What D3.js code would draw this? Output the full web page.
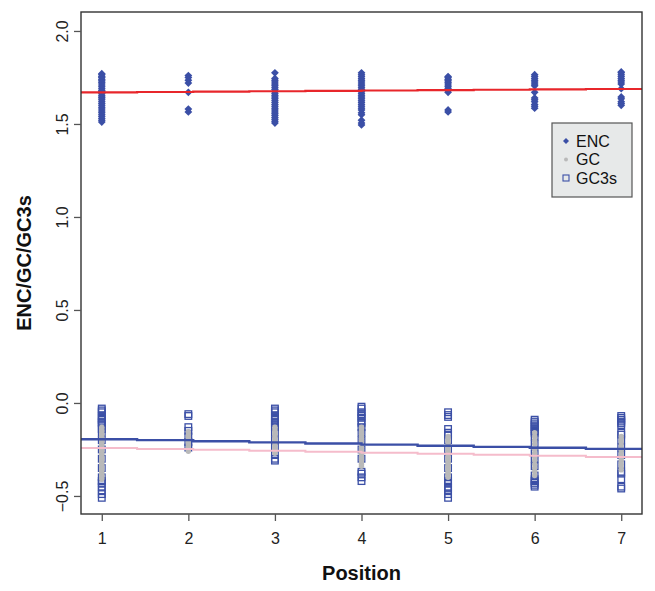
<!DOCTYPE html>
<html><head><meta charset="utf-8">
<script src="https://cdn.jsdelivr.net/npm/d3@7"></script>
<style>body{margin:0;background:#fff}svg{display:block}text{font-family:"Liberation Sans",Arial,sans-serif}</style>
</head><body>
<svg id="c" width="655" height="591"></svg>
<script>
const positions = [1,2,3,4,5,6,7];
const xTicks = [1,2,3,4,5,6,7];
const yTicks = [-0.5,0,0.5,1,1.5,2];
const yTickLabels = ["\u22120.5","0.0","0.5","1.0","1.5","2.0"];

const encValues = [
  [1.77,1.765,1.755,1.75,1.74,1.735,1.725,1.72,1.71,1.70,1.69,1.68,1.675,1.665,1.655,1.645,1.64,1.63,1.62,1.61,1.60,1.59,1.58,1.57,1.56,1.55,1.54,1.53,1.52,1.51],
  [1.76,1.75,1.735,1.72,1.67,1.58,1.565],
  [1.775,1.745,1.735,1.725,1.715,1.705,1.695,1.685,1.675,1.665,1.655,1.645,1.635,1.625,1.615,1.605,1.595,1.585,1.575,1.565,1.555,1.545,1.535,1.525,1.515,1.505],
  [1.775,1.765,1.755,1.745,1.735,1.725,1.715,1.705,1.695,1.685,1.675,1.665,1.655,1.645,1.635,1.625,1.615,1.605,1.595,1.585,1.575,1.56,1.55,1.52,1.505,1.495],
  [1.755,1.75,1.74,1.735,1.725,1.72,1.71,1.70,1.69,1.68,1.67,1.575,1.565],
  [1.765,1.755,1.745,1.735,1.725,1.715,1.705,1.67,1.64,1.63,1.62,1.605,1.595,1.585],
  [1.78,1.775,1.765,1.755,1.745,1.735,1.725,1.715,1.69,1.645,1.635,1.62,1.61,1.60]
];
const gcValues = [
  [-0.13,-0.14,-0.15,-0.16,-0.17,-0.18,-0.19,-0.20,-0.21,-0.22,-0.23,-0.24,-0.25,-0.26,-0.27,-0.28,-0.29,-0.30,-0.31,-0.32,-0.33,-0.34,-0.35,-0.36,-0.37,-0.38,-0.39,-0.40,-0.41],
  [-0.155,-0.17,-0.18,-0.19,-0.20,-0.21,-0.22,-0.23,-0.24,-0.25,-0.26],
  [-0.13,-0.14,-0.15,-0.16,-0.17,-0.18,-0.19,-0.20,-0.21,-0.22,-0.23,-0.24,-0.25,-0.26,-0.27],
  [-0.13,-0.14,-0.15,-0.16,-0.17,-0.18,-0.19,-0.20,-0.21,-0.22,-0.23,-0.24,-0.25,-0.26,-0.27,-0.28,-0.29,-0.30,-0.31,-0.32,-0.33,-0.34],
  [-0.18,-0.19,-0.20,-0.21,-0.22,-0.23,-0.24,-0.25,-0.26,-0.27,-0.28,-0.29,-0.30,-0.31,-0.32,-0.33,-0.34,-0.35,-0.36,-0.37,-0.38,-0.39,-0.40],
  [-0.16,-0.18,-0.20,-0.22,-0.25,-0.27,-0.29,-0.31,-0.33,-0.35,-0.37,-0.39],
  [-0.18,-0.195,-0.21,-0.225,-0.24,-0.255,-0.27,-0.285,-0.30,-0.315,-0.33,-0.345,-0.36]
];
const gc3sValues = [
  [-0.03,-0.04,-0.05,-0.07,-0.08,-0.09,-0.10,-0.11,-0.12,-0.14,-0.16,-0.20,-0.25,-0.30,-0.35,-0.40,-0.42,-0.43,-0.45,-0.47,-0.49,-0.51],
  [-0.06,-0.07,-0.13,-0.15,-0.18,-0.21,-0.24],
  [-0.03,-0.04,-0.05,-0.07,-0.08,-0.09,-0.10,-0.11,-0.12,-0.13,-0.16,-0.20,-0.24,-0.28,-0.30,-0.31],
  [-0.02,-0.03,-0.05,-0.06,-0.07,-0.08,-0.10,-0.11,-0.13,-0.16,-0.20,-0.25,-0.30,-0.37,-0.38,-0.40,-0.42],
  [-0.05,-0.065,-0.075,-0.14,-0.16,-0.17,-0.20,-0.25,-0.30,-0.35,-0.40,-0.42,-0.43,-0.45,-0.46,-0.47,-0.49,-0.51],
  [-0.09,-0.10,-0.11,-0.12,-0.13,-0.14,-0.15,-0.16,-0.18,-0.22,-0.27,-0.30,-0.34,-0.39,-0.41,-0.42,-0.43,-0.44,-0.45],
  [-0.07,-0.08,-0.09,-0.10,-0.11,-0.12,-0.16,-0.17,-0.20,-0.24,-0.28,-0.33,-0.37,-0.38,-0.41,-0.45,-0.46]
];
// fitted step lines: segment start positions and values
const stepStarts = [0.76,1.408,2.056,2.704,3.352,4.0,4.648,5.296,5.944,6.592,7.24];
const encFit  = [1.670,1.672,1.674,1.676,1.678,1.680,1.682,1.684,1.686,1.688,1.688];
const gc3sFit = [-0.195,-0.200,-0.206,-0.212,-0.218,-0.224,-0.230,-0.236,-0.241,-0.247,-0.247];
const gcFit   = [-0.242,-0.247,-0.252,-0.257,-0.262,-0.268,-0.273,-0.279,-0.284,-0.290,-0.290];
const legendLabels = ["ENC","GC","GC3s"];

const svg = d3.select("#c");
const L=81,R=642,T=12,B=514;
const x = d3.scaleLinear().domain([0.76,7.24]).range([L,R]);
const y = d3.scaleLinear().domain([-0.597,2.102]).range([B,T]);
const blue="#3b4fa6", gray="#b9b9b9", red="#e8262b", pink="#f5bccb";

function flat(vals){const out=[];vals.forEach((arr,i)=>arr.forEach(v=>out.push({p:positions[i],v})));return out;}
const dia = s => `M0,${-s}L${s},0L0,${s}L${-s},0Z`;

// points
svg.append("g").selectAll("path").data(flat(encValues)).join("path")
  .attr("d",dia(3.9)).attr("fill",blue)
  .attr("transform",d=>`translate(${x(d.p)},${y(d.v)})`);
svg.append("g").selectAll("rect").data(flat(gc3sValues)).join("rect")
  .attr("x",d=>x(d.p)-3.3).attr("y",d=>y(d.v)-3.3).attr("width",6.6).attr("height",6.6)
  .attr("fill","none").attr("stroke",blue).attr("stroke-width",1.3);
svg.append("g").selectAll("circle").data(flat(gcValues)).join("circle")
  .attr("cx",d=>x(d.p)).attr("cy",d=>y(d.v)).attr("r",2.7).attr("fill",gray);

// step lines
const line = d3.line().x(d=>x(d[0])).y(d=>y(d[1])).curve(d3.curveStepAfter);
[[gcFit,pink,2],[gc3sFit,blue,2.4],[encFit,red,2.2]].forEach(([vals,col,w])=>{
  svg.append("path").attr("d",line(stepStarts.map((s,i)=>[s,vals[i]])))
    .attr("fill","none").attr("stroke",col).attr("stroke-width",w);
});

// box
svg.append("rect").attr("x",L).attr("y",T).attr("width",R-L).attr("height",B-T)
  .attr("fill","none").attr("stroke","#333").attr("stroke-width",1.4);

// axes
const ax = svg.append("g").attr("transform",`translate(0,${B})`)
  .call(d3.axisBottom(x).tickValues(xTicks).tickSize(7).tickPadding(12).tickFormat(d3.format("d")));
const ay = svg.append("g").attr("transform",`translate(${L},0)`)
  .call(d3.axisLeft(y).tickValues(yTicks).tickSize(7).tickPadding(4).tickFormat((d,i)=>yTickLabels[i]));
[ax,ay].forEach(g=>{
  g.select(".domain").remove();
  g.selectAll(".tick line").attr("stroke","#555").attr("stroke-width",1.3);
  g.selectAll("text").attr("font-size",16).attr("fill","#222").attr("font-family","Liberation Sans, Arial, sans-serif");
});
ay.selectAll(".tick text").attr("transform","rotate(-90)").attr("text-anchor","middle")
  .attr("x",0).attr("dy",0).attr("y",-13);

// titles
svg.append("text").attr("x",(L+R)/2).attr("y",580).attr("text-anchor","middle")
  .attr("font-size",20).attr("font-weight","bold").attr("fill","#111").text("Position");
svg.append("text").attr("transform",`translate(31,${(T+B)/2}) rotate(-90)`).attr("text-anchor","middle")
  .attr("font-size",20).attr("font-weight","bold").attr("fill","#111").text("ENC/GC/GC3s");

// legend
const lg = svg.append("g").attr("transform","translate(552,123)");
lg.append("rect").attr("width",80).attr("height",74).attr("fill","#e7e9e9").attr("stroke","#555").attr("stroke-width",1.2);
legendLabels.forEach((t,i)=>{
  const cy=18+i*18.5;
  if(i===0) lg.append("path").attr("d",dia(3)).attr("fill",blue).attr("transform",`translate(14,${cy})`);
  if(i===1) lg.append("circle").attr("cx",14).attr("cy",cy).attr("r",2).attr("fill",gray);
  if(i===2) lg.append("rect").attr("x",11).attr("y",cy-3).attr("width",6).attr("height",6).attr("fill","none").attr("stroke",blue).attr("stroke-width",1.1);
  lg.append("text").attr("x",24).attr("y",cy+5.5).attr("font-size",16).attr("fill","#111").text(t);
});
</script>
</body></html>
